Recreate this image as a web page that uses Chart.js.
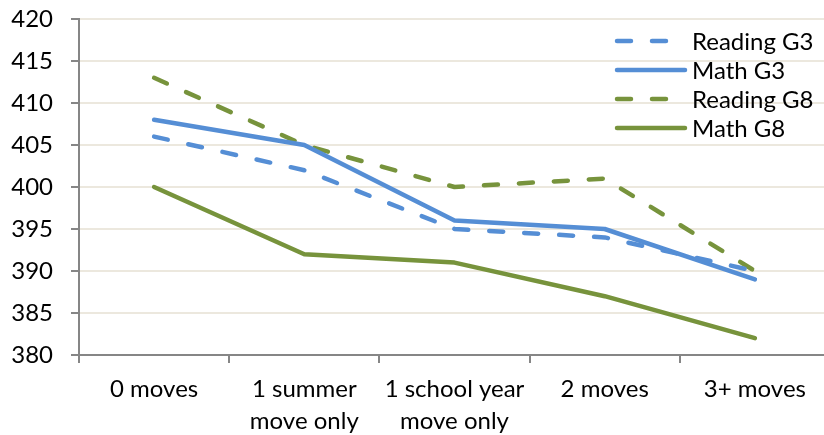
<!DOCTYPE html>
<html>
<head>
<meta charset="utf-8">
<script src="https://cdn.jsdelivr.net/npm/chart.js@4/dist/chart.umd.min.js"></script>
<style>
    body {
        margin: 0;
        overflow: hidden;
        background: #fff;
    }
</style>
</head>
<body>
<canvas id="movesChart" width="834" height="435"></canvas>
<script>

// ==========================
// DATA
// ==========================

const categories = [
    "0 moves",
    ["1 summer", "move only"],
    ["1 school year", "move only"],
    "2 moves",
    "3+ moves"
];

const readingG3 = [406, 402, 395, 394, 390];
const mathG3 = [408, 405, 396, 395, 389];
const readingG8 = [413, 405, 400, 401, 390];
const mathG8 = [400, 392, 391, 387, 382];

const yTicks = [380, 385, 390, 395, 400, 405, 410, 415, 420];

const BLUE = "#558ED5";
const GREEN = "#77933C";
const FONT = "Lato";

// ==========================
// LEGEND INSIDE THE PLOT
// ==========================

const insideLegend = {
    id: "insideLegend",
    afterDraw(chart) {

        const ctx = chart.ctx;
        let y = 41;

        chart.data.datasets.forEach(ds => {

            ctx.save();
            ctx.strokeStyle = ds.borderColor;
            ctx.lineWidth = ds.borderWidth;
            ctx.lineCap = "round";

            if (ds.borderDash.length) {
                ctx.setLineDash(ds.borderDash);
            }

            ctx.beginPath();
            ctx.moveTo(617, y);
            ctx.lineTo(ds.borderDash.length ? 670 : 685, y);
            ctx.stroke();
            ctx.restore();

            ctx.save();
            ctx.fillStyle = "#000";
            ctx.font = "24px " + FONT;
            ctx.textBaseline = "middle";
            ctx.fillText(ds.label, 692, y + 1);
            ctx.restore();

            y += 29;
        });
    }
};

// ==========================
// CHART
// ==========================

function lineSet(label, data, color, dashed) {
    return {
        label: label,
        data: data,
        borderColor: color,
        backgroundColor: color,
        borderWidth: 4.5,
        borderDash: dashed ? [14, 21] : [],
        borderCapStyle: "round",
        borderJoinStyle: "round",
        pointRadius: 0,
        tension: 0,
        fill: false
    };
}

new Chart(document.getElementById("movesChart"), {
    type: "line",
    data: {
        labels: categories,
        datasets: [
            lineSet("Reading G3", readingG3, BLUE, true),
            lineSet("Math G3", mathG3, BLUE, false),
            lineSet("Reading G8", readingG8, GREEN, true),
            lineSet("Math G8", mathG8, GREEN, false)
        ]
    },
    options: {
        responsive: false,
        animation: false,
        layout: {
            padding: { top: 19, right: 4, left: 0, bottom: 0 }
        },
        plugins: {
            legend: { display: false },
            tooltip: { enabled: false }
        },
        scales: {
            x: {
                offset: true,
                grid: {
                    offset: true,
                    drawOnChartArea: false,
                    tickLength: 8,
                    tickColor: "#868686",
                    lineWidth: 2
                },
                border: {
                    color: "#868686",
                    width: 2
                },
                ticks: {
                    color: "#000",
                    padding: 11,
                    maxRotation: 0,
                    autoSkip: false,
                    font: { family: FONT, size: 24, lineHeight: 1.3 }
                },
                afterFit(scale) {
                    scale.height = 80;
                    scale.paddingLeft = 0;
                    scale.paddingRight = 0;
                }
            },
            y: {
                min: 380,
                max: 420,
                afterBuildTicks(scale) {
                    scale.ticks = yTicks.map(v => ({ value: v }));
                },
                grid: {
                    color: "#ECE8DE",
                    lineWidth: 2,
                    tickLength: 8,
                    tickColor: "#868686"
                },
                border: {
                    color: "#868686",
                    width: 2
                },
                ticks: {
                    color: "#000",
                    padding: 18,
                    font: { family: FONT, size: 24 }
                },
                afterFit(scale) {
                    scale.width = 79;
                    scale.paddingTop = 0;
                    scale.paddingBottom = 0;
                }
            }
        }
    },
    plugins: [insideLegend]
});

</script>
</body>
</html>
